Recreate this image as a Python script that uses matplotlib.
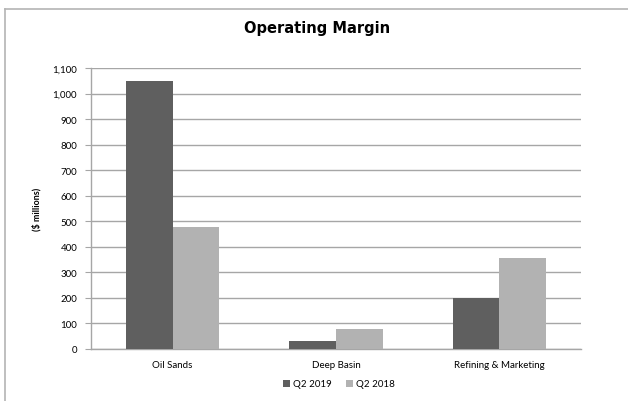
import matplotlib
matplotlib.use("Agg")
import matplotlib.pyplot as plt
from matplotlib.lines import Line2D
import numpy as np

categories = ["Oil Sands", "Deep Basin", "Refining & Marketing"]
series_names = ["Q2 2019", "Q2 2018"]
q2_2019 = [1049, 30, 201]
q2_2018 = [476, 77, 356]
yticks = list(range(0, 1101, 100))
ytick_labels = [f"{v:,}" for v in yticks]

dark = "#5f5f5f"
light = "#b2b2b2"
grid_c = "#a6a6a6"
lab_font = ["Lato", "DejaVu Sans"]

fig = plt.figure(figsize=(6.28, 4.02), dpi=100)
ax = fig.add_axes([91/628, 1-350/402, 490/628, 281/402])

x = np.arange(len(categories))
w = 0.285
ax.bar(x - w/2, q2_2019, width=w, color=dark, label=series_names[0], zorder=3)
ax.bar(x + w/2, q2_2018, width=w, color=light, label=series_names[1], zorder=3)

ax.set_xlim(-0.5, len(categories) - 0.5)
ax.set_ylim(0, 1100)
ax.set_yticks(yticks)
ax.set_yticklabels(ytick_labels, fontsize=7, family=lab_font)
ax.set_xticks(x)
ax.set_xticklabels(categories, fontsize=7, family=lab_font)
ax.tick_params(axis="x", length=0, pad=8)
ax.tick_params(axis="y", length=4, color=grid_c, pad=6)
ax.yaxis.grid(True, color=grid_c, linewidth=1.0, zorder=0)
for s in ["top", "right"]:
    ax.spines[s].set_visible(False)
for s in ["left", "bottom"]:
    ax.spines[s].set_color(grid_c)
    ax.spines[s].set_linewidth(1.0)

ax.set_ylabel("($ millions)", fontsize=6.5, fontweight="bold", family=lab_font, labelpad=8)

fig.text(317/628, 1-28/402, "Operating Margin", ha="center", va="center",
         fontsize=10.5, fontweight="bold")

leg = fig.legend(handles=ax.patches[:1] + ax.patches[3:4], labels=series_names,
                 loc="center", bbox_to_anchor=(339/628, 1-385/402), ncol=2,
                 frameon=False, handlelength=0.7, handleheight=0.7,
                 columnspacing=1.4, handletextpad=0.35, prop={"family": lab_font, "size": 7})

# outer chart frame
fig.add_artist(Line2D([5/628, 1], [1-10/402, 1-10/402], transform=fig.transFigure,
                      color="#b4b4b4", linewidth=1.2))
fig.add_artist(Line2D([5/628, 5/628], [0, 1-10/402], transform=fig.transFigure,
                      color="#b4b4b4", linewidth=1.2))

fig.savefig("out.png", dpi=100)
